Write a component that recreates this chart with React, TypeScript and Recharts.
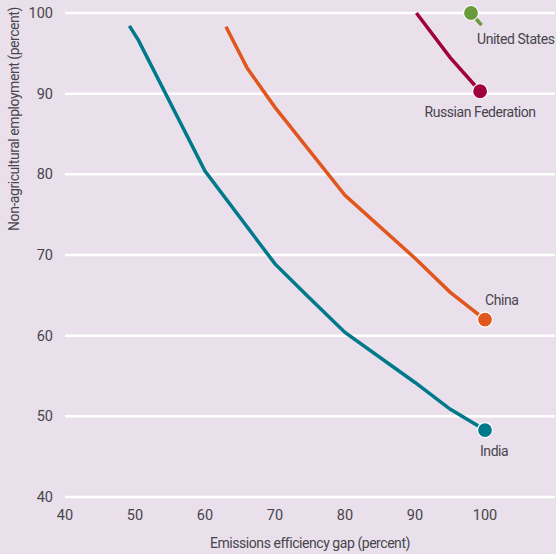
import { LineChart, Line, XAxis, YAxis, CartesianGrid } from 'recharts';

const FONT = "Roboto, 'Liberation Sans', sans-serif";
const TEXT = '#48454b';
const SPACING = '-0.45px';

const xTicks = [40, 50, 60, 70, 80, 90, 100];
const yTicks = [40, 50, 60, 70, 80, 90, 100];

const indiaX = [49.2, 50.5, 60, 70, 75, 80, 90, 95, 100];
const indiaY = [98.4, 96.6, 80.4, 68.9, 64.6, 60.4, 54.2, 50.9, 48.3];

const chinaX = [63, 66, 70, 80, 90, 95, 100];
const chinaY = [98.3, 93.2, 88.3, 77.4, 69.6, 65.4, 62];

const russiaX = [90.2, 95, 99.3];
const russiaY = [100, 94.5, 90.3];

const usX = [99.5, 98];
const usY = [98.5, 100];

const zip = (xs: number[], ys: number[]) => xs.map((x, i) => ({ x, y: ys[i] }));

const series = [
  { name: 'India', data: zip(indiaX, indiaY), color: '#00798a', dx: -5, dy: 26, anchor: 'start' },
  { name: 'China', data: zip(chinaX, chinaY), color: '#e0561c', dx: 0, dy: -15, anchor: 'start' },
  { name: 'Russian Federation', data: zip(russiaX, russiaY), color: '#a0003b', dx: 0, dy: 26, anchor: 'middle' },
  { name: 'United States', data: zip(usX, usY), color: '#6b9a3d', dx: 6, dy: 31, anchor: 'start' },
];

function endDot(s: (typeof series)[number]) {
  return (props: any) => {
    const { cx, cy, index } = props;
    if (index !== s.data.length - 1) return <g key={`${s.name}-${index}`} />;
    return (
      <g key={`${s.name}-${index}`}>
        <circle cx={cx} cy={cy} r={7.5} fill={s.color} stroke="#fff" strokeWidth={1.2} />
        <text
          x={cx + s.dx}
          y={cy + s.dy}
          textAnchor={s.anchor as any}
          fontFamily={FONT}
          fontSize={14}
          letterSpacing={SPACING}
          fill={TEXT}
        >
          {s.name}
        </text>
      </g>
    );
  };
}

export default function App() {
  return (
    <div style={{ position: 'absolute', left: 0, top: 0, background: '#e9e0eb' }}>
      <LineChart width={556} height={554} margin={{ top: 13, right: 1, left: 0, bottom: 0 }}>
        <CartesianGrid horizontal vertical={false} stroke="#ffffff" strokeWidth={2.5} />
        <XAxis
          type="number"
          dataKey="x"
          domain={[40, 110]}
          ticks={xTicks}
          axisLine={false}
          tickLine={false}
          tickSize={0}
          tickMargin={13}
          height={57}
          tick={{ fontFamily: FONT, fontSize: 14.5, fill: TEXT }}
          label={{
            value: 'Emissions efficiency gap (percent)',
            position: 'insideBottom',
            offset: 6,
            style: { fontFamily: FONT, fontSize: 14, fill: TEXT, letterSpacing: SPACING },
          }}
        />
        <YAxis
          type="number"
          dataKey="y"
          domain={[40, 100]}
          ticks={yTicks}
          axisLine={false}
          tickLine={false}
          tickSize={0}
          tickMargin={12}
          width={65}
          tick={{ fontFamily: FONT, fontSize: 14.5, fill: TEXT }}
          label={{
            content: () => (
              <text
                x={19}
                y={119}
                transform="rotate(-90 19 119)"
                textAnchor="middle"
                fontFamily={FONT}
                fontSize={14}
                letterSpacing={SPACING}
                fill={TEXT}
              >
                Non-agricultural employment (percent)
              </text>
            ),
          }}
        />
        {series.map((s) => (
          <Line
            key={s.name}
            data={s.data}
            dataKey="y"
            type="linear"
            stroke={s.color}
            strokeWidth={3.5}
            dot={endDot(s)}
            activeDot={false}
            isAnimationActive={false}
          />
        ))}
      </LineChart>
    </div>
  );
}
